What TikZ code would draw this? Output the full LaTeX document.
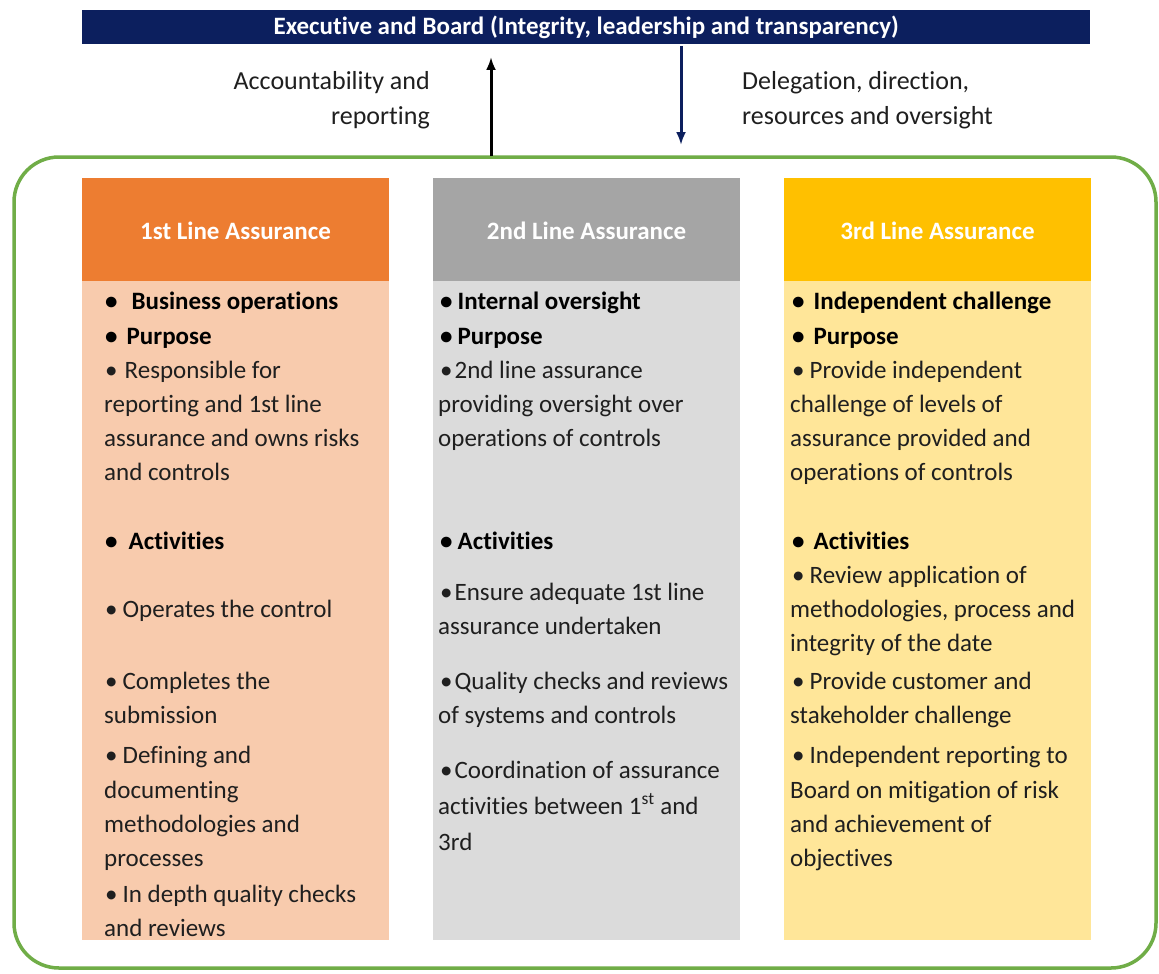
\documentclass[tikz,border=0pt]{standalone}
\usepackage{fontspec}
\setmainfont{Carlito}[Ligatures=NoCommon]
\usetikzlibrary{arrows.meta}
\definecolor{navy}{HTML}{0C1F5E}
\definecolor{frameg}{HTML}{70AD47}
\definecolor{orangeH}{HTML}{ED7D31}
\definecolor{orangeB}{HTML}{F8CBAD}
\definecolor{greyH}{HTML}{A5A5A5}
\definecolor{greyB}{HTML}{DBDBDB}
\definecolor{yellowH}{HTML}{FFC000}
\definecolor{yellowB}{HTML}{FFE699}
\definecolor{bodytxt}{HTML}{1F1F1F}
\tikzset{
  txt/.style={anchor=base west, inner sep=0pt, text=bodytxt, font=\fontsize{25}{30}\selectfont},
  btxt/.style={txt, text=black, font=\fontsize{25}{30}\selectfont\bfseries},
  hdr/.style={inner sep=0pt, text=white, font=\fontsize{25}{30}\selectfont\bfseries},
  lbl/.style={inner sep=0pt, text=bodytxt, font=\fontsize{26}{30}\selectfont},
}
\begin{document}
\begin{tikzpicture}[x=1pt,y=-1pt]
\useasboundingbox[fill=white] (0,0) rectangle (1159,974);
% title bar
\node[fill=navy, minimum width=1008pt, minimum height=34pt, inner sep=0pt, anchor=north west,
  text=white, font=\fontsize{25}{28}\selectfont\bfseries] (board) at (82,10) {Executive and Board (Integrity, leadership and transparency)};
% frame
\draw[frameg, line width=3.5pt, rounded corners=45pt] (14,157) rectangle (1156,968);
\coordinate (upS) at (491,156);
\coordinate (upE) at (491,57);
\coordinate (dnS) at (681,46);
\coordinate (dnE) at (681,145);
\draw[line width=3pt, -{Latex[length=13pt,width=10pt]}] (upS) -- (upE);
\draw[navy, line width=3pt, -{Latex[length=13pt,width=10pt]}] (dnS) -- (dnE);
\node[lbl, anchor=base east] (acc1) at (430,89) {Accountability and};
\node[lbl, anchor=base east] (acc2) at (430,124) {reporting};
\node[lbl, anchor=base west] (del1) at (742,89) {Delegation, direction,};
\node[lbl, anchor=base west] (del2) at (742,124) {resources and oversight};
% columns
\fill[orangeH] (82,178) rectangle (389,281);
\fill[orangeB] (82,281) rectangle (389,940);
\fill[greyH] (433,178) rectangle (740,281);
\fill[greyB] (433,281) rectangle (740,940);
\fill[yellowH] (784,178) rectangle (1091,281);
\fill[yellowB] (784,281) rectangle (1091,940);
\node[hdr] (h1) at (235.5,231) {1st Line Assurance};
\node[hdr] (h2) at (586.5,231) {2nd Line Assurance};
\node[hdr] (h3) at (937.5,231) {3rd Line Assurance};
% column 1
\node[btxt] (a1) at (105,309) {•\hspace{14pt}Business operations};
\node[btxt] (a2) at (105,344) {•\hspace{9pt}Purpose};
\node[txt] (a3) at (105,378) {•\hspace{7pt}Responsible for};
\node[txt] (a4) at (104,412) {reporting and 1st line};
\node[txt] (a5) at (104,446) {assurance and owns risks};
\node[txt] (a6) at (104,480) {and controls};
\node[btxt] (a7) at (105,549) {•\hspace{11pt}Activities};
\node[txt] (a8) at (105,617) {•\hspace{5pt}Operates the control};
\node[txt] (a9) at (105,689) {•\hspace{5pt}Completes the};
\node[txt] (a10) at (104,723) {submission};
\node[txt] (a11) at (105,763) {•\hspace{5pt}Defining and};
\node[txt] (a12) at (104,798) {documenting};
\node[txt] (a13) at (104,832) {methodologies and};
\node[txt] (a14) at (104,866) {processes};
\node[txt] (a15) at (105,902) {•\hspace{5pt}In depth quality checks};
\node[txt] (a16) at (104,936) {and reviews};
% column 2
\node[btxt] (b1) at (440,309) {•\hspace{5pt}Internal oversight};
\node[btxt] (b2) at (440,344) {•\hspace{5pt}Purpose};
\node[txt] (b3) at (440,378) {•\hspace{2pt}2nd line assurance};
\node[txt] (b4) at (438,412) {providing oversight over};
\node[txt] (b5) at (438,446) {operations of controls};
\node[btxt] (b6) at (440,549) {•\hspace{5pt}Activities};
\node[txt] (b7) at (440,600) {•\hspace{2pt}Ensure adequate 1st line};
\node[txt] (b8) at (438,634) {assurance undertaken};
\node[txt] (b9) at (440,689) {•\hspace{2pt}Quality checks and reviews};
\node[txt] (b10) at (438,723) {of systems and controls};
\node[txt] (b11) at (440,778) {•\hspace{2pt}Coordination of assurance};
\node[txt] (b12) at (438,814) {activities between 1\textsuperscript{st} and};
\node[txt] (b13) at (438,850) {3rd};
% column 3
\node[btxt] (c1) at (792,309) {•\hspace{9pt}Independent challenge};
\node[btxt] (c2) at (792,344) {•\hspace{9pt}Purpose};
\node[txt] (c3) at (792,378) {•\hspace{5pt}Provide independent};
\node[txt] (c4) at (790,412) {challenge of levels of};
\node[txt] (c5) at (790,446) {assurance provided and};
\node[txt] (c6) at (790,480) {operations of controls};
\node[btxt] (c7) at (792,549) {•\hspace{9pt}Activities};
\node[txt] (c8) at (792,583) {•\hspace{5pt}Review application of};
\node[txt] (c9) at (790,617) {methodologies, process and};
\node[txt] (c10) at (790,651) {integrity of the date};
\node[txt] (c11) at (792,689) {•\hspace{5pt}Provide customer and};
\node[txt] (c12) at (790,723) {stakeholder challenge};
\node[txt] (c13) at (792,763) {•\hspace{5pt}Independent reporting to};
\node[txt] (c14) at (790,798) {Board on mitigation of risk};
\node[txt] (c15) at (790,832) {and achievement of};
\node[txt] (c16) at (790,866) {objectives};
\end{tikzpicture}
\end{document}
